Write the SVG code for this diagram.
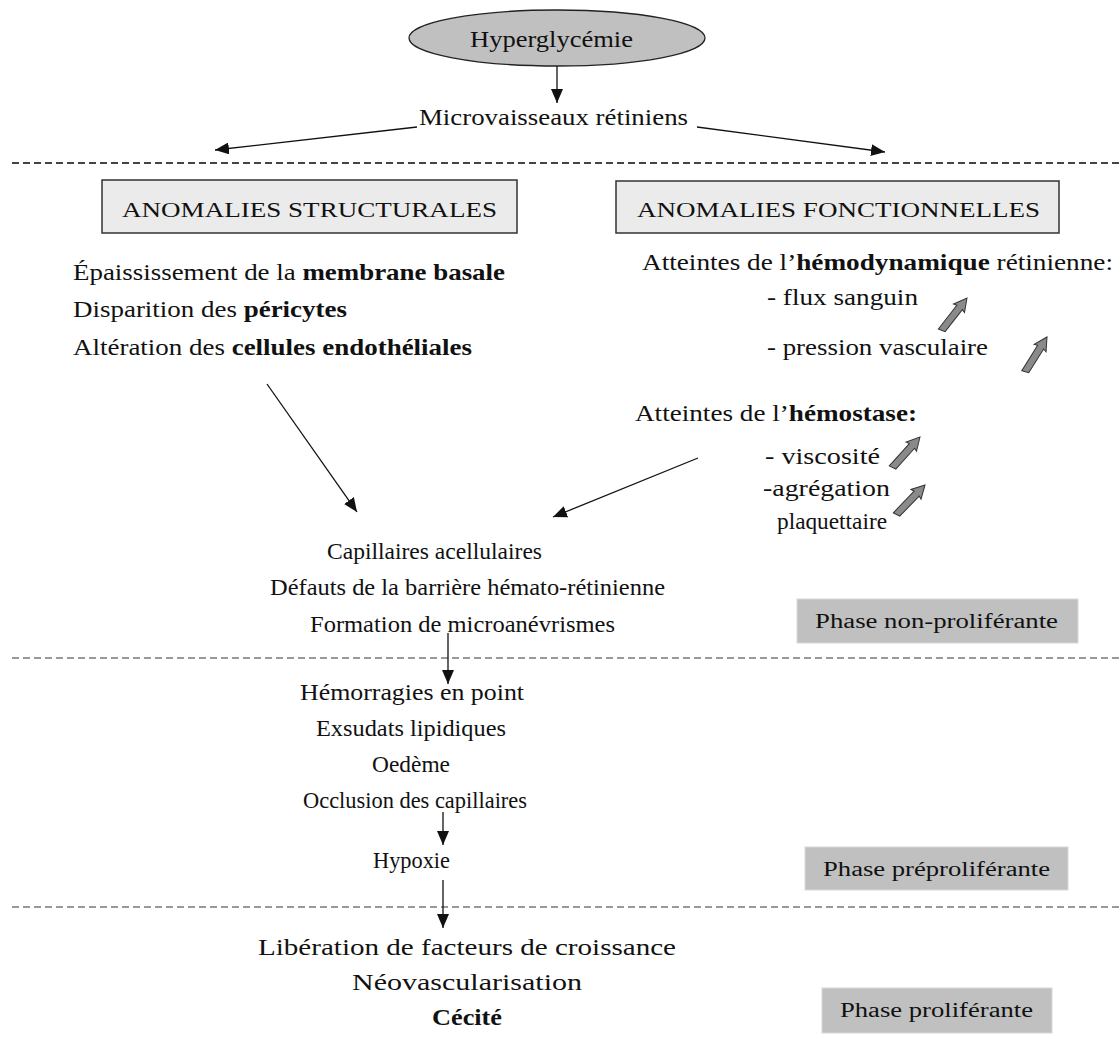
<svg xmlns="http://www.w3.org/2000/svg" width="1120" height="1039" viewBox="0 0 1120 1039">
<style>
text{font-family:"Liberation Serif","Times New Roman",serif;font-size:23px;fill:#111}
.b{font-weight:bold}
.hdr{font-size:22px}
.ph{font-size:20px}
.conn{stroke:#111;stroke-width:1.3;fill:none}
.dash1{stroke:#444;stroke-width:2;stroke-dasharray:7 4}
.dash2{stroke:#999;stroke-width:2;stroke-dasharray:7 4}
.box{fill:#ebebeb;stroke:#333;stroke-width:1.5}
.pbox{fill:#c0c0c0;stroke:#d8d8d8;stroke-width:1}
.up{fill:#8a8a8a;stroke:#333;stroke-width:1}
</style>
<defs>
<marker id="ah" viewBox="0 0 14 12" refX="14" refY="6" markerWidth="14" markerHeight="12" markerUnits="userSpaceOnUse" orient="auto">
<path d="M0,0 L14,6 L0,12 Z" fill="#111"/>
</marker>
<path id="blk" d="M0,0 L7,13 L3.5,12 L3.5,40 L-3.5,42 L-3.5,12 L-7,13 Z"/>
</defs>

<g id="separators">
<line class="dash1" x1="12" y1="163" x2="1120" y2="163"/>
<line class="dash2" x1="12" y1="658" x2="1120" y2="658"/>
<line class="dash2" x1="12" y1="907" x2="1120" y2="907"/>
</g>

<g id="connectors">
<line class="conn" x1="557" y1="66" x2="557" y2="103" marker-end="url(#ah)"/>
<line class="conn" x1="417" y1="127" x2="215" y2="150" marker-end="url(#ah)"/>
<line class="conn" x1="697" y1="127" x2="885" y2="152" marker-end="url(#ah)"/>
<line class="conn" x1="267" y1="384" x2="357" y2="512" marker-end="url(#ah)"/>
<line class="conn" x1="698" y1="458" x2="553" y2="517" marker-end="url(#ah)"/>
<line class="conn" x1="448" y1="633" x2="448" y2="684" marker-end="url(#ah)"/>
<line class="conn" x1="443" y1="812" x2="443" y2="845" marker-end="url(#ah)"/>
<line class="conn" x1="443" y1="880" x2="443" y2="928" marker-end="url(#ah)"/>
</g>

<g id="hyperglycemie">
<ellipse cx="557" cy="38" rx="148" ry="28" fill="#c0c0c0" stroke="#222" stroke-width="1.3"/>
<text x="470" y="47" textLength="163" lengthAdjust="spacingAndGlyphs">Hyperglycémie</text>
</g>

<g id="microvaisseaux">
<text x="419" y="125" textLength="269" lengthAdjust="spacingAndGlyphs">Microvaisseaux rétiniens</text>
</g>

<g id="structurales">
<rect class="box" x="102" y="180" width="415" height="53"/>
<text x="122" y="217" class="hdr" textLength="375" lengthAdjust="spacingAndGlyphs">ANOMALIES  STRUCTURALES</text>
</g>

<g id="fonctionnelles">
<rect class="box" x="616" y="181" width="443" height="52"/>
<text x="637" y="217" class="hdr" textLength="403" lengthAdjust="spacingAndGlyphs">ANOMALIES  FONCTIONNELLES</text>
</g>

<g id="structural-list">
<text x="73" y="280" textLength="432" lengthAdjust="spacingAndGlyphs">Épaississement de la <tspan class="b">membrane basale</tspan></text>
<text x="73" y="317" textLength="274" lengthAdjust="spacingAndGlyphs">Disparition des <tspan class="b">péricytes</tspan></text>
<text x="73" y="355" textLength="399" lengthAdjust="spacingAndGlyphs">Altération des <tspan class="b">cellules endothéliales</tspan></text>
</g>

<g id="hemodynamique">
<text x="642" y="270" textLength="471" lengthAdjust="spacingAndGlyphs">Atteintes de l’<tspan class="b">hémodynamique</tspan> rétinienne:</text>
<text x="767" y="305" textLength="151" lengthAdjust="spacingAndGlyphs">- flux sanguin</text>
<text x="767" y="355" textLength="221" lengthAdjust="spacingAndGlyphs">- pression vasculaire</text>
<use href="#blk" class="up" transform="translate(967,298) rotate(38)"/>
<use href="#blk" class="up" transform="translate(1047,337) rotate(32)"/>
</g>

<g id="hemostase">
<text x="635" y="421" textLength="282" lengthAdjust="spacingAndGlyphs">Atteintes de l’<tspan class="b">hémostase:</tspan></text>
<text x="765" y="464" textLength="115" lengthAdjust="spacingAndGlyphs">- viscosité</text>
<text x="763" y="496" textLength="127" lengthAdjust="spacingAndGlyphs">-agrégation</text>
<text x="777" y="529" textLength="110" lengthAdjust="spacingAndGlyphs">plaquettaire</text>
<use href="#blk" class="up" transform="translate(920,437) rotate(42)"/>
<use href="#blk" class="up" transform="translate(925,485) rotate(44)"/>
</g>

<g id="lesions">
<text x="327" y="559" textLength="215" lengthAdjust="spacingAndGlyphs">Capillaires acellulaires</text>
<text x="270" y="595" textLength="395" lengthAdjust="spacingAndGlyphs">Défauts de la barrière hémato-rétinienne</text>
<text x="310" y="632" textLength="305" lengthAdjust="spacingAndGlyphs">Formation de microanévrismes</text>
</g>

<g id="preproliferante-list">
<text x="300" y="700" textLength="224" lengthAdjust="spacingAndGlyphs">Hémorragies en point</text>
<text x="316" y="736" textLength="190" lengthAdjust="spacingAndGlyphs">Exsudats lipidiques</text>
<text x="372" y="772" textLength="78" lengthAdjust="spacingAndGlyphs">Oedème</text>
<text x="303" y="808" textLength="224" lengthAdjust="spacingAndGlyphs">Occlusion des capillaires</text>
</g>

<g id="hypoxie">
<text x="373" y="868" textLength="77" lengthAdjust="spacingAndGlyphs">Hypoxie</text>
</g>

<g id="proliferante-list">
<text x="258" y="955" textLength="418" lengthAdjust="spacingAndGlyphs">Libération de facteurs de croissance</text>
<text x="352" y="990" textLength="230" lengthAdjust="spacingAndGlyphs">Néovascularisation</text>
<text x="432" y="1025" class="b" textLength="70" lengthAdjust="spacingAndGlyphs">Cécité</text>
</g>

<g id="phase-non-proliferante">
<rect class="pbox" x="797" y="599" width="281" height="44"/>
<text x="815" y="628" class="ph" textLength="243" lengthAdjust="spacingAndGlyphs">Phase non-proliférante</text>
</g>
<g id="phase-preproliferante">
<rect class="pbox" x="805" y="847" width="263" height="43"/>
<text x="823" y="876" class="ph" textLength="227" lengthAdjust="spacingAndGlyphs">Phase préproliférante</text>
</g>
<g id="phase-proliferante">
<rect class="pbox" x="822" y="988" width="230" height="45"/>
<text x="840" y="1017" class="ph" textLength="193" lengthAdjust="spacingAndGlyphs">Phase proliférante</text>
</g>
</svg>
